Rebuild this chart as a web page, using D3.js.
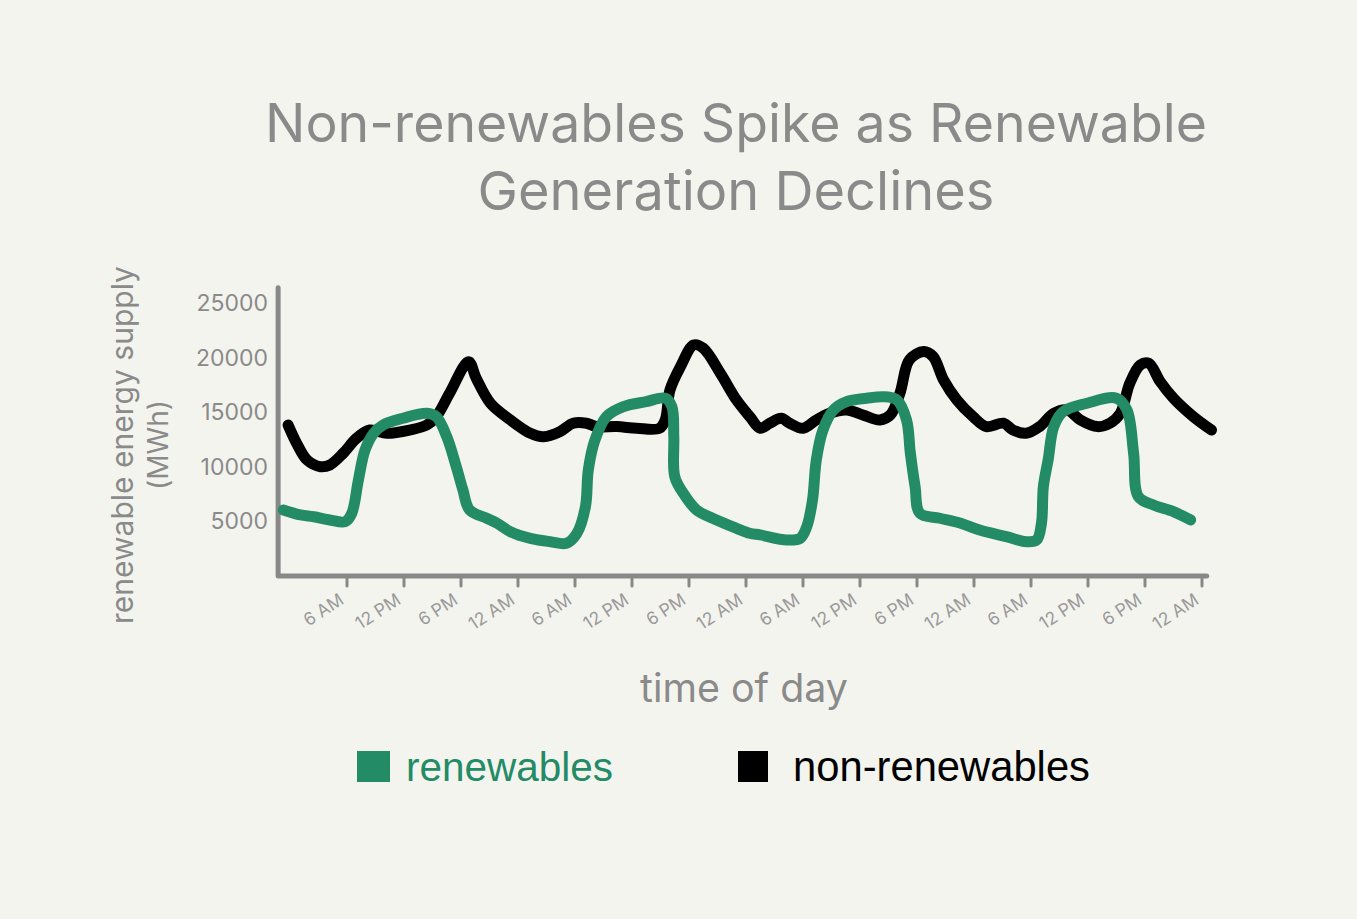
<!DOCTYPE html>
<html><head><meta charset="utf-8">
<script src="https://cdn.jsdelivr.net/npm/d3@7"></script>
<style>
html,body{margin:0;padding:0;background:#f4f4ef;}
svg{display:block;}
text{font-variant-ligatures:none;}
</style></head>
<body>
<svg id="chart" width="1357" height="919"></svg>
<script>
// ---- data (hours from midnight of day 1, MWh) ----
const nonRenewHours = [-0.2,0.7,1.8,3.2,4.2,5.6,7.0,8.4,10.2,12.6,14.4,15.4,16.8,18.8,19.6,21.1,23.2,25.3,26.7,28.4,29.8,31.2,32.3,34.4,36.5,38.9,39.5,40.0,41.1,42.5,43.5,45.3,47.0,48.4,49.5,50.5,51.7,52.6,54.0,55.4,56.8,58.6,60.3,62.1,63.2,64.2,65.2,66.7,67.7,68.8,70.2,71.9,73.3,75.1,76.1,77.5,78.9,80.4,81.8,83.2,85.0,86.3,87.4,88.4,89.5,90.4,91.6,93.0,95.1,97.0];
const nonRenewValues = [13830,12150,10620,10010,10170,11240,12610,13370,13070,13370,13830,14590,16730,19630,18110,15820,14290,13070,12760,13220,13990,13990,13680,13680,13530,13530,14290,17040,19170,21160,20860,18570,16120,14590,13530,13990,14450,13990,13530,14290,14900,15210,14750,14290,14750,16730,19790,20550,20090,17950,16120,14590,13680,13990,13370,13070,13680,14900,15210,14290,13680,13990,14900,17650,19330,19480,17800,16280,14590,13370];
const renewHours = [-0.7,1.1,2.5,4.2,5.8,6.5,7.2,7.9,8.8,9.8,11.9,14.4,15.4,16.5,17.5,18.2,18.9,20.7,21.8,23.2,25.3,27.4,29.1,30.2,31.1,31.4,32.1,33.3,35.1,37.5,39.5,40.2,40.4,40.5,41.4,42.8,44.9,47.0,48.4,49.5,52.3,53.7,54.4,55.0,55.4,56.1,57.2,58.6,60.7,62.5,63.9,64.9,65.3,65.8,66.3,68.4,70.6,72.6,75.4,77.5,78.6,79.1,79.3,79.8,80.4,81.4,83.9,87.0,88.1,88.8,89.3,90.9,93.0,94.8];
const renewValues = [6050,5590,5430,5130,4970,5740,8790,11540,13070,13830,14450,14900,14590,12760,10010,7880,6050,5290,4830,4060,3450,3140,3000,3910,6350,9710,12460,14590,15510,15970,16280,15510,12760,9100,7580,6050,5130,4370,3910,3760,3300,3450,4520,6960,10620,13370,15210,15970,16280,16420,16120,14290,11240,8180,5740,5290,4830,4210,3600,3140,3300,4830,8180,10620,13680,15060,15820,16280,15210,11240,7270,6500,5890,5130];
const tickHours = [6,12,18,24,30,36,42,48,54,60,66,72,78,84,90,96];
const tickLabels = ["6 AM","12 PM","6 PM","12 AM","6 AM","12 PM","6 PM","12 AM","6 AM","12 PM","6 PM","12 AM","6 AM","12 PM","6 PM","12 AM"];
const yTickValues = [5000,10000,15000,20000,25000];
const seriesNames = ["renewables","non-renewables"];
const seriesColors = ["#238b65","#000000"];

const svg = d3.select("#chart");
const FONT = "Inter, 'Open Sans', sans-serif";
const GRAY = "#8a8a8a";

const x = d3.scaleLinear().domain([0,96]).range([290,1202]);
const y = d3.scaleLinear().domain([0,25000]).range([576,303]);

// fit a text element's font size to a target width
function fit(sel, width){
  const n = sel.node();
  const fs = parseFloat(sel.style("font-size"));
  const w = n.getComputedTextLength();
  if (w > 0) sel.style("font-size", (fs*width/w).toFixed(2)+"px");
  return sel;
}

// title
const t1 = svg.append("text").attr("x",736).attr("y",142).attr("text-anchor","middle").attr("fill",GRAY)
  .style("font-family",FONT).style("font-size","50px").text("Non-renewables Spike as Renewable");
fit(t1, 942);
const t2 = svg.append("text").attr("x",736).attr("y",210).attr("text-anchor","middle").attr("fill",GRAY)
  .style("font-family",FONT).style("font-size","50px").text("Generation Declines");
fit(t2, 517);

// axes lines
svg.append("path")
  .attr("d", `M${x(-1.25)},${y(26400)} L${x(-1.25)},${y(0)} L${x(96.5)},${y(0)}`)
  .attr("fill","none").attr("stroke","#888").attr("stroke-width",5)
  .attr("stroke-linecap","round").attr("stroke-linejoin","round");

// x ticks
const xt = svg.append("g");
xt.selectAll("line").data(tickHours).join("line")
  .attr("x1",d=>x(d)).attr("x2",d=>x(d))
  .attr("y1",y(0)+2).attr("y2",y(0)+10)
  .attr("stroke","#888").attr("stroke-width",3).attr("stroke-linecap","round");
xt.selectAll("text").data(tickHours).join("text")
  .attr("text-anchor","end").attr("fill","#9a9a9a")
  .style("font-family",FONT).style("font-size","17.5px")
  .attr("transform",d=>`translate(${x(d)-2},${y(0)+27}) rotate(-33)`)
  .text((d,i)=>tickLabels[i]);

// y tick labels
svg.append("g").selectAll("text").data(yTickValues).join("text")
  .attr("x",268).attr("y",d=>y(d)+8).attr("text-anchor","end")
  .attr("fill","#8a8a8a").style("font-family",FONT).style("font-size","23px")
  .text(d=>d);

// axis titles
const ya1 = svg.append("text").attr("transform","translate(133,445) rotate(-90)")
  .attr("text-anchor","middle").attr("fill",GRAY)
  .style("font-family",FONT).style("font-size","28px").text("renewable energy supply");
fit(ya1, 358);
const ya2 = svg.append("text").attr("transform","translate(168,445) rotate(-90)")
  .attr("text-anchor","middle").attr("fill",GRAY)
  .style("font-family",FONT).style("font-size","28px").text("(MWh)");
fit(ya2, 90);
const xa = svg.append("text").attr("x",744).attr("y",702).attr("text-anchor","middle")
  .attr("fill",GRAY).style("font-family",FONT).style("font-size","34px").text("time of day");
fit(xa, 208);

// lines
const line = d3.line().x(d=>x(d[0])).y(d=>y(d[1])).curve(d3.curveCatmullRom.alpha(0.5));
const nonData = nonRenewHours.map((h,i)=>[h,nonRenewValues[i]]);
const renData = renewHours.map((h,i)=>[h,renewValues[i]]);
svg.append("path").attr("d",line(nonData)).attr("fill","none")
  .attr("stroke",seriesColors[1]).attr("stroke-width",11)
  .attr("stroke-linecap","round").attr("stroke-linejoin","round");
svg.append("path").attr("d",line(renData)).attr("fill","none")
  .attr("stroke",seriesColors[0]).attr("stroke-width",11)
  .attr("stroke-linecap","round").attr("stroke-linejoin","round");

// legend
const legendX = [357,738];
const legendTextX = [406,793];
const legendW = [207, 297];
const lg = svg.append("g");
seriesNames.forEach((n,i)=>{
  lg.append("rect").attr("x",legendX[i]).attr("y",751).attr("width",i===0?33:30).attr("height",31)
    .attr("fill",seriesColors[i]);
  const t = lg.append("text").attr("x",legendTextX[i]).attr("y",781).attr("fill",seriesColors[i])
    .style("font-family","'Liberation Sans', Arial, sans-serif").style("font-size","41px").text(n);
  fit(t, legendW[i]);
});
</script>
</body></html>
